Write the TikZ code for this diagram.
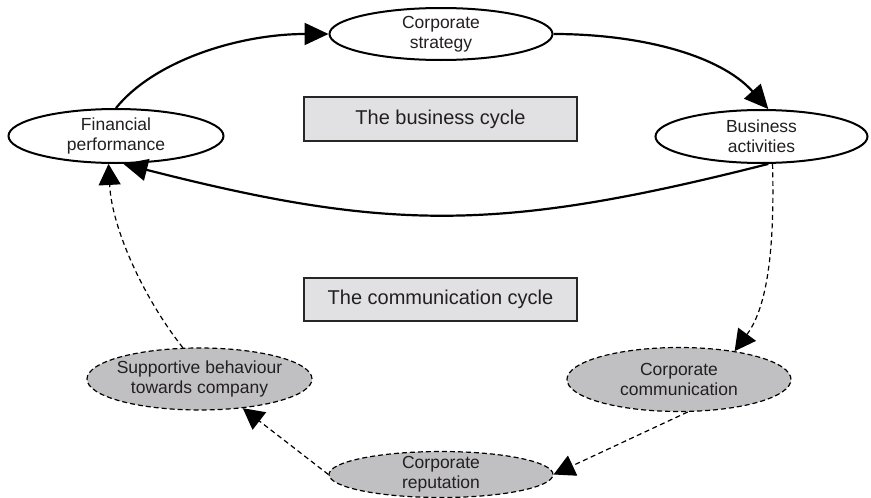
\documentclass[tikz,border=0pt]{standalone}
\usepackage{fontspec}
\setmainfont{Liberation Sans}
\usetikzlibrary{arrows.meta,shapes.geometric}
\definecolor{txt}{HTML}{231F20}
\definecolor{boxfill}{HTML}{E1E1E3}
\definecolor{ellfill}{HTML}{C0C0C2}
\begin{document}
\begin{tikzpicture}[x=1pt,y=-1pt,
  solidell/.style={ellipse, draw=black, line width=2pt, fill=white, inner xsep=-20pt, inner ysep=-8pt,
    align=center, text=txt, font=\fontsize{17.5}{20}\selectfont},
  dashell/.style={ellipse, draw=black, line width=1.2pt, dash pattern=on 5pt off 3pt, fill=ellfill,
    inner xsep=-20pt, inner ysep=-8pt, align=center, text=txt, font=\fontsize{17.5}{20}\selectfont},
  cyclebox/.style={rectangle, draw=black!85, line width=1.4pt, fill=boxfill, minimum width=273pt,
    text=txt, font=\fontsize{20}{24}\selectfont},
  solidarr/.style={line width=2.2pt, -{Triangle[length=24pt,width=22pt]}},
  dasharr/.style={line width=1.2pt, dash pattern=on 5pt off 3.5pt, -{Triangle[length=21pt,width=22pt]}}]
\useasboundingbox (0,0) rectangle (871,498);

\node[solidell, minimum width=223pt, minimum height=52pt] (cs) at (441,34) {Corporate\\strategy};
\node[solidell, minimum width=215pt, minimum height=54pt] (fp) at (116,136) {Financial\\performance};
\node[solidell, minimum width=212pt, minimum height=53pt] (ba) at (761.5,136.5) {Business\\activities};

\node[cyclebox, minimum height=44pt] (b1) at (440.5,119) {The business cycle};
\node[cyclebox, minimum height=43pt] (b2) at (440.5,299.5) {The communication cycle};

\node[dashell, minimum width=225pt, minimum height=62pt] (sp) at (199.5,379) {Supportive behaviour\\towards company};
\node[dashell, minimum width=224pt, minimum height=64pt] (cc) at (679,379.5) {Corporate\\communication};
\node[dashell, minimum width=224pt, minimum height=46pt] (cr) at (441,474.5) {Corporate\\reputation};

\draw[solidarr] (fp.north) .. controls (155,60) and (240,34) .. (cs.west);
\draw[solidarr] (cs.east) .. controls (640,34) and (720,55) .. (ba.76);
\draw[solidarr] (ba.-76) .. controls (500,232) and (390,232) .. (fp.-75);

\draw[dasharr] (ba.-68) .. controls (775,260) and (765,310) .. (cc.27);
\draw[dasharr] (cc.-75) -- (cr.east);
\draw[dasharr] (cr.west) -- (sp.-34);
\draw[dasharr] (sp.118) .. controls (145,300) and (112,230) .. (fp.255);
\end{tikzpicture}
\end{document}
